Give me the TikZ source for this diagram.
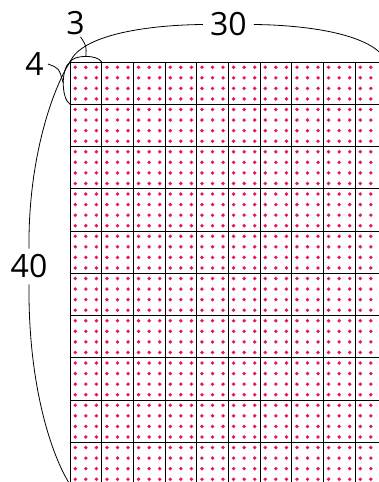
\documentclass[tikz,border=0pt]{standalone}
\usepackage{fontspec}
\setmainfont{Open Sans}
\usepackage{xcolor}
\usepackage{tikz}
\usetikzlibrary{positioning}

\definecolor{dotpink}{RGB}{232,22,92}

\begin{document}
\begin{tikzpicture}[
  x=1pt,
  y=-1pt,
  gridline/.style={black, line width=0.8pt},
  dot/.style={fill=dotpink},
  brace/.style={black, line width=0.8pt},
  num/.style={font=\fontsize{32}{32}\selectfont, inner sep=2pt},
  gap/.style={num, fill=white, inner xsep=7pt, inner ysep=6pt}
]
  \useasboundingbox (0,0) rectangle (379,482);
  \clip (0,0) rectangle (379,482);

  \foreach \i in {0,...,29} {
    \foreach \j in {0,...,39} {
      \fill[dot] ({70+10.5556*(\i+0.5)},{62+10.5625*(\j+0.5)}) circle (1.9pt);
    }
  }

  \foreach \i in {0,...,10} {
    \draw[gridline] ({70+31.6667*\i},62) -- ({70+31.6667*\i},484.5);
    \draw[gridline] (70,{62+42.25*\i}) -- (386.67,{62+42.25*\i});
  }

  \coordinate (c0) at (70,62);
  \coordinate (c3) at (101.67,62);
  \coordinate (c4) at (70,104.25);
  \coordinate (c30) at (386.67,62);
  \coordinate (c40) at (70,484.5);
  \coordinate (m3) at (85.85,56.4);
  \coordinate (m4) at (63.25,83.1);

  \node[num] (lab3) at (75.5,23) {3};
  \node[num, inner sep=4pt] (lab4) at (34.5,64) {4};
  \node[gap] (lab30) at (228.3,24.5) {30};
  \node[gap] (lab40) at (29,266.5) {40};

  \draw[brace] (c0) .. controls (74,54.5) and (97.7,54.5) .. (c3);
  \draw[brace] (m3) .. controls (86.5,46) .. (lab3.-70);

  \draw[brace] (c0) .. controls (61,68) and (61,98.3) .. (c4);
  \draw[brace] (m4) .. controls (59,68) .. (lab4.east);

  \draw[brace] (c0) .. controls (82,34) and (150,25) .. (lab30.west);
  \draw[brace] (lab30.east) .. controls (306.6,25) and (374.6,34) .. (c30);

  \draw[brace] (c0) .. controls (52,90) and (28,160) .. (lab40.north);
  \draw[brace] (lab40.south) .. controls (28,386.5) and (52,456.5) .. (c40);
\end{tikzpicture}
\end{document}
